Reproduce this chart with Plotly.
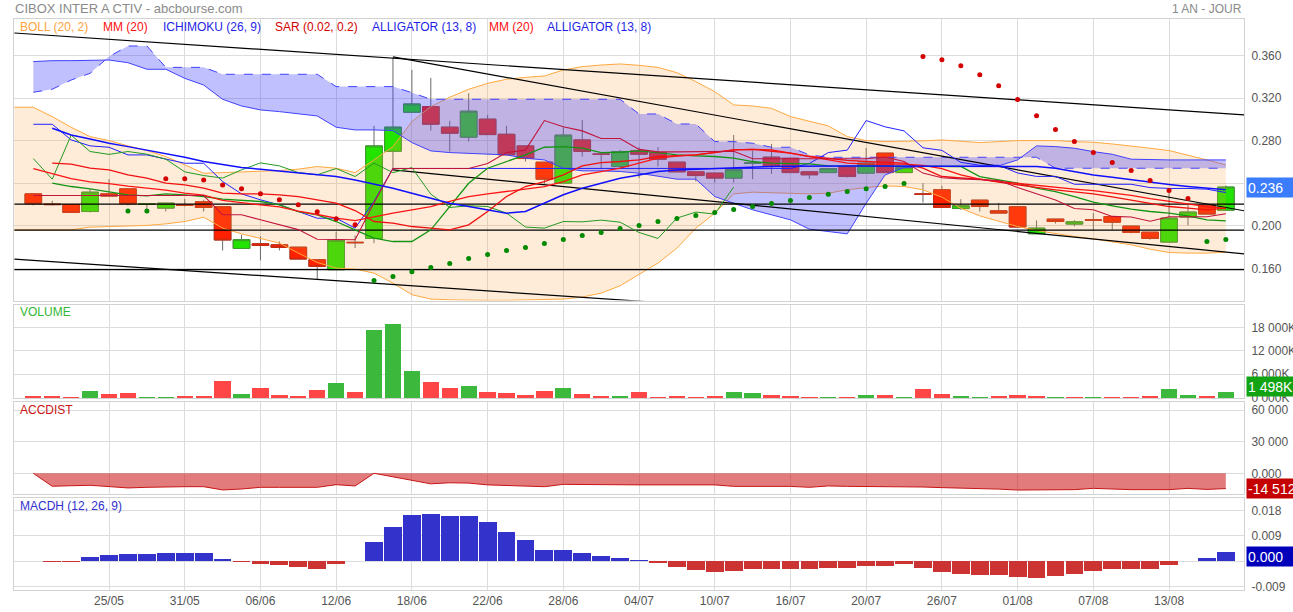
import plotly.graph_objects as go

# ---------------- DATA ----------------
dates = ['18/05', '21/05', '22/05', '23/05', '24/05', '25/05', '28/05', '29/05', '30/05', '31/05',
         '01/06', '04/06', '05/06', '06/06', '07/06', '08/06', '11/06', '12/06', '13/06', '14/06',
         '15/06', '18/06', '19/06', '20/06', '21/06', '22/06', '25/06', '26/06', '27/06', '28/06',
         '29/06', '02/07', '03/07', '04/07', '05/07', '06/07', '09/07', '10/07', '11/07', '12/07',
         '13/07', '16/07', '17/07', '18/07', '19/07', '20/07', '23/07', '24/07', '25/07', '26/07',
         '27/07', '30/07', '31/07', '01/08', '02/08', '03/08', '06/08', '07/08', '08/08', '09/08',
         '10/08', '13/08', '14/08', '15/08', '16/08']
tick_labels = ['25/05', '31/05', '06/06', '12/06', '18/06', '22/06', '28/06', '04/07',
               '10/07', '16/07', '20/07', '26/07', '01/08', '07/08', '13/08']

# sessions 21/05 .. 16/08
opens = [0.2301, 0.2205, 0.2201, 0.2135, 0.2301, 0.2348, 0.2203, 0.2167, 0.2197, 0.2226,
         0.2180, 0.1788, 0.1832, 0.1822, 0.1800, 0.1682, 0.1588, 0.1846, 0.1882, 0.2702,
         0.3069, 0.3121, 0.2928, 0.2834, 0.3003, 0.2861, 0.2752, 0.2599, 0.2402, 0.2808,
         0.2676, 0.2558, 0.2706, 0.2689, 0.2599, 0.2508, 0.2496, 0.2449, 0.2588, 0.2646,
         0.2636, 0.2508, 0.2501, 0.2555, 0.2496, 0.2684, 0.2501, 0.2300, 0.2339, 0.2163,
         0.2242, 0.2142, 0.2180, 0.1926, 0.2064, 0.2017, 0.2056, 0.2088, 0.1998, 0.1941,
         0.1848, 0.2083, 0.2195, 0.2148]
highs = [0.2301, 0.2236, 0.2201, 0.2348, 0.2439, 0.2348, 0.2208, 0.2214, 0.2254, 0.2245,
         0.2180, 0.1914, 0.1902, 0.1854, 0.1800, 0.1682, 0.1945, 0.1910, 0.2940, 0.3585,
         0.3466, 0.3391, 0.2987, 0.3247, 0.3043, 0.2940, 0.2752, 0.2599, 0.2928, 0.2996,
         0.2685, 0.2714, 0.2740, 0.2740, 0.2599, 0.2508, 0.2496, 0.2855, 0.2706, 0.2771,
         0.2636, 0.2508, 0.2545, 0.2555, 0.2733, 0.2684, 0.2560, 0.2402, 0.2377, 0.2251,
         0.2242, 0.2217, 0.2180, 0.2051, 0.2064, 0.2054, 0.2120, 0.2088, 0.1998, 0.1941,
         0.2323, 0.2205, 0.2195, 0.2380]
lows = [0.2192, 0.2192, 0.2126, 0.2126, 0.2280, 0.2192, 0.2160, 0.2135, 0.2182, 0.2135,
        0.1769, 0.1788, 0.1675, 0.1769, 0.1688, 0.1494, 0.1588, 0.1792, 0.1838, 0.2527,
        0.3069, 0.2896, 0.2699, 0.2793, 0.2858, 0.2668, 0.2605, 0.2395, 0.2402, 0.2652,
        0.2533, 0.2533, 0.2449, 0.2558, 0.2508, 0.2417, 0.2407, 0.2407, 0.2439, 0.2489,
        0.2501, 0.2442, 0.2501, 0.2455, 0.2496, 0.2501, 0.2501, 0.2220, 0.2173, 0.2151,
        0.2135, 0.2120, 0.1989, 0.1926, 0.2022, 0.1995, 0.1957, 0.1963, 0.1930, 0.1870,
        0.1848, 0.2004, 0.2111, 0.2148]
closes = [0.2208, 0.2200, 0.2126, 0.2317, 0.2280, 0.2208, 0.2208, 0.2214, 0.2192, 0.2173,
          0.1867, 0.1870, 0.1816, 0.1797, 0.1688, 0.1619, 0.1864, 0.1842, 0.2752, 0.2928,
          0.3146, 0.2956, 0.2871, 0.3078, 0.2858, 0.2668, 0.2633, 0.2439, 0.2853, 0.2699,
          0.2672, 0.2699, 0.2674, 0.2627, 0.2508, 0.2473, 0.2449, 0.2527, 0.2592, 0.2564,
          0.2501, 0.2480, 0.2539, 0.2464, 0.2590, 0.2501, 0.2548, 0.2298, 0.2173, 0.2189,
          0.2182, 0.2120, 0.1989, 0.1979, 0.2041, 0.2038, 0.2054, 0.2035, 0.1938, 0.1882,
          0.2073, 0.2130, 0.2111, 0.2365]

# Bollinger (from 18/05)
boll_up = [0.3115, 0.3115, 0.3027, 0.2927, 0.2839, 0.2802, 0.2752, 0.2708, 0.2652, 0.2573, 0.2495,
           0.2501, 0.2507, 0.2511, 0.2520, 0.2533, 0.2558, 0.2542, 0.2501, 0.2620, 0.2745,
           0.2980, 0.3121, 0.3209, 0.3284, 0.3340, 0.3378, 0.3396, 0.3409, 0.3465, 0.3497,
           0.3512, 0.3522, 0.3509, 0.3490, 0.3440, 0.3356, 0.3262, 0.3137, 0.3127, 0.3105,
           0.3027, 0.2980, 0.2940, 0.2839, 0.2802, 0.2792, 0.2792, 0.2799, 0.2808, 0.2792,
           0.2783, 0.2792, 0.2802, 0.2802, 0.2802, 0.2792, 0.2786, 0.2770, 0.2752, 0.2730,
           0.2708, 0.2667, 0.2620, 0.2573]
boll_low = [0.1963, 0.1963, 0.1963, 0.1963, 0.1988, 0.1994, 0.1994, 0.2004, 0.2019, 0.2041, 0.2082,
            0.1979, 0.1925, 0.1885, 0.1838, 0.1744, 0.1656, 0.1603, 0.1594, 0.1556, 0.1462,
            0.1353, 0.1312, 0.1305, 0.1300, 0.1300, 0.1300, 0.1303, 0.1303, 0.1312, 0.1331,
            0.1368, 0.1437, 0.1540, 0.1650, 0.1791, 0.1979, 0.2119, 0.2301, 0.2317, 0.2313,
            0.2307, 0.2301, 0.2307, 0.2339, 0.2360, 0.2376, 0.2370, 0.2339, 0.2270, 0.2166,
            0.2094, 0.2041, 0.1994, 0.1957, 0.1925, 0.1900, 0.1878, 0.1853, 0.1822, 0.1781,
            0.1750, 0.1744, 0.1744, 0.1753]

mm20 = [0.2539, 0.2495, 0.2445, 0.2414, 0.2398, 0.2373, 0.2356, 0.2336, 0.2307, 0.2289,
        0.2240, 0.2216, 0.2198, 0.2179, 0.2139, 0.2107, 0.2073, 0.2050, 0.2088, 0.2119,
        0.2151, 0.2182, 0.2230, 0.2276, 0.2300, 0.2323, 0.2345, 0.2370, 0.2417, 0.2479,
        0.2511, 0.2542, 0.2589, 0.2636, 0.2655, 0.2667, 0.2690, 0.2714, 0.2720, 0.2714,
        0.2683, 0.2652, 0.2624, 0.2589, 0.2581, 0.2584, 0.2581, 0.2569, 0.2539, 0.2479,
        0.2439, 0.2417, 0.2398, 0.2380, 0.2364, 0.2346, 0.2332, 0.2312, 0.2287, 0.2256,
        0.2229, 0.2206, 0.2182, 0.2163]
alligator_teeth = [None, 0.2589, 0.2580, 0.2542, 0.2526, 0.2479, 0.2448, 0.2401, 0.2385, 0.2354,
                   0.2307, 0.2301, 0.2301, 0.2292, 0.2276, 0.2245, 0.2213, 0.2144, 0.2041, 0.2026,
                   0.1994, 0.1979, 0.1963, 0.2010, 0.2135, 0.2276, 0.2370, 0.2417, 0.2479, 0.2564,
                   0.2595, 0.2605, 0.2620, 0.2652, 0.2661, 0.2667, 0.2689, 0.2714, 0.2720, 0.2705,
                   0.2683, 0.2652, 0.2630, 0.2615, 0.2605, 0.2598, 0.2589, 0.2542, 0.2464, 0.2450,
                   0.2439, 0.2412, 0.2385, 0.2362, 0.2339, 0.2320, 0.2301, 0.2273, 0.2245, 0.2213,
                   0.2182, 0.2166, 0.2151, 0.2166]
alligator_jaw = [None, 0.2918, 0.2855, 0.2817, 0.2777, 0.2745, 0.2714, 0.2683, 0.2645, 0.2605,
                 0.2573, 0.2548, 0.2533, 0.2517, 0.2501, 0.2486, 0.2464, 0.2432, 0.2395, 0.2354,
                 0.2307, 0.2260, 0.2213, 0.2182, 0.2151, 0.2119, 0.2135, 0.2213, 0.2292, 0.2354,
                 0.2401, 0.2448, 0.2479, 0.2511, 0.2526, 0.2533, 0.2542, 0.2548, 0.2555, 0.2558,
                 0.2561, 0.2564, 0.2564, 0.2564, 0.2564, 0.2564, 0.2564, 0.2564, 0.2564, 0.2564,
                 0.2564, 0.2564, 0.2564, 0.2558, 0.2542, 0.2511, 0.2479, 0.2457, 0.2432, 0.2407,
                 0.2389, 0.2370, 0.2354, 0.2339]
alligator_lips = [None, 0.2401, 0.2370, 0.2348, 0.2323, 0.2292, 0.2282, 0.2301, 0.2292, 0.2276,
                  0.2251, 0.2238, 0.2229, 0.2198, 0.2135, 0.2104, 0.2041, 0.1963, 0.1885, 0.1853,
                  0.1853, 0.1963, 0.2182, 0.2401, 0.2542, 0.2605, 0.2667, 0.2739, 0.2745, 0.2730,
                  0.2689, 0.2692, 0.2705, 0.2689, 0.2667, 0.2658, 0.2652, 0.2636, 0.2605, 0.2589,
                  0.2583, 0.2583, 0.2564, 0.2564, 0.2564, 0.2564, 0.2564, 0.2564, 0.2558, 0.2558,
                  0.2464, 0.2432, 0.2401, 0.2354, 0.2323, 0.2276, 0.2223, 0.2188, 0.2157, 0.2135,
                  0.2119, 0.2094, 0.2057, 0.2047]

ichimoku_tenkan = [0.2285, 0.2285, 0.2285, 0.2285, 0.2285, 0.2285, 0.2285, 0.2285, 0.2285, 0.2285,
                   0.2104, 0.2104, 0.2057, 0.2012, 0.1965, 0.1874, 0.1874, 0.1870, 0.2217, 0.2540,
                   0.2540, 0.2540, 0.2540, 0.2540, 0.2587, 0.2689, 0.2712, 0.2990, 0.2931, 0.2893,
                   0.2821, 0.2821, 0.2719, 0.2696, 0.2696, 0.2696, 0.2702, 0.2702, 0.2631, 0.2631,
                   0.2631, 0.2631, 0.2631, 0.2631, 0.2631, 0.2647, 0.2605, 0.2496, 0.2453, 0.2442,
                   0.2434, 0.2427, 0.2361, 0.2305, 0.2243, 0.2164, 0.2152, 0.2089, 0.2084, 0.2044,
                   0.2086, 0.2086, 0.2086, 0.2114]
ichimoku_kijun = [0.2955, 0.2955, 0.2808, 0.2752, 0.2739, 0.2667, 0.2667, 0.2627, 0.2589, 0.2589,
                  0.2417, 0.2301, 0.2245, 0.2198, 0.2135, 0.2072, 0.2072, 0.1979, 0.2230, 0.2540,
                  0.2540, 0.2540, 0.2540, 0.2540, 0.2540, 0.2540, 0.2540, 0.2540, 0.2540, 0.2540,
                  0.2540, 0.2540, 0.2540, 0.2540, 0.2540, 0.2540, 0.2540, 0.2540, 0.2540, 0.2540,
                  0.2540, 0.2587, 0.2689, 0.2712, 0.2990, 0.2931, 0.2893, 0.2734, 0.2710, 0.2597,
                  0.2570, 0.2570, 0.2497, 0.2465, 0.2465, 0.2391, 0.2391, 0.2391, 0.2391, 0.2360,
                  0.2352, 0.2352, 0.2345, 0.2313]
ichimoku_span_a = [0.3544, 0.3553, 0.3553, 0.3553, 0.3559, 0.3534, 0.3472, 0.3472, 0.3387, 0.3324,
                   0.3190, 0.3127, 0.3090, 0.3074, 0.3052, 0.3033, 0.2927, 0.2902, 0.2902, 0.2896,
                   0.2783, 0.2705, 0.2689, 0.2683, 0.2676, 0.2667, 0.2636, 0.2620, 0.2542, 0.2517,
                   0.2517, 0.2511, 0.2495, 0.2464, 0.2439, 0.2439, 0.2276, 0.2213, 0.2151, 0.2104,
                   0.2057, 0.1969, 0.1947, 0.1925, 0.2213, 0.2479, 0.2548, 0.2558, 0.2558, 0.2558,
                   0.2564, 0.2564, 0.2620, 0.2752, 0.2745, 0.2730, 0.2698, 0.2673, 0.2627, 0.2620,
                   0.2620, 0.2620, 0.2620, 0.2620]
ichimoku_span_b = [0.3256, 0.3284, 0.3371, 0.3434, 0.3591, 0.3691, 0.3691, 0.3490, 0.3490, 0.3490,
                   0.3425, 0.3425, 0.3425, 0.3425, 0.3425, 0.3425, 0.3309, 0.3309, 0.3309, 0.3309,
                   0.3252, 0.3190, 0.3190, 0.3190, 0.3190, 0.3190, 0.3190, 0.3190, 0.3190, 0.3190,
                   0.3190, 0.3190, 0.3052, 0.3052, 0.2958, 0.2958, 0.2792, 0.2792, 0.2777, 0.2739,
                   0.2739, 0.2667, 0.2645, 0.2645, 0.2645, 0.2645, 0.2645, 0.2645, 0.2645, 0.2645,
                   0.2645, 0.2645, 0.2645, 0.2645, 0.2542, 0.2542, 0.2542, 0.2542, 0.2542, 0.2542,
                   0.2542, 0.2542, 0.2542, 0.2542]
chikou_shift = 26

sar = [None, None, None, None, None, 0.2141, 0.2141, 0.2442, 0.2442, 0.2432,
       0.2385, 0.2348, 0.2301, 0.2245, 0.2198, 0.2132, 0.2066, 0.2010, 0.1487, 0.1525,
       0.1569, 0.1609, 0.1647, 0.1694, 0.1731, 0.1769, 0.1797, 0.1835, 0.1872, 0.1910,
       0.1938, 0.1975, 0.2004, 0.2041, 0.2069, 0.2098, 0.2126, 0.2154, 0.2182, 0.2210,
       0.2238, 0.2267, 0.2298, 0.2323, 0.2348, 0.2370, 0.2398, 0.3591, 0.3562, 0.3506,
       0.3421, 0.3318, 0.3187, 0.3036, 0.2905, 0.2792, 0.2689, 0.2595, 0.2520, 0.2426,
       0.2332, 0.2257, 0.1853, 0.1872]

# trend lines (session index, price)
trend_top = {'x': [0, 65], 'y': [0.3813, 0.3043]}
trend_mid = {'x': [20, 65], 'y': [0.3588, 0.2141]}
trend_low = {'x': [20, 65], 'y': [0.2527, 0.1737]}
trend_bottom = {'x': [0, 65], 'y': [0.1688, 0.0909]}
levels = [0.2205, 0.1961, 0.1588]

volume_k = [430, 510, 255, 1790, 1020, 1190, 255, 170, 430, 430,
            4250, 1020, 2550, 680, 430, 1960, 3740, 1530, 17250, 18870,
            6800, 4080, 2550, 3060, 1530, 1280, 680, 1790, 2470, 1020,
            510, 340, 1450, 170, 430, 170, 340, 1450, 1280, 680,
            510, 170, 85, 170, 680, 680, 255, 2130, 940, 430,
            170, 340, 770, 430, 85, 85, 170, 85, 170, 340,
            2130, 770, 430, 1498]
volume_dir = ['d', 'd', 'd', 'u', 'd', 'd', 'u', 'u', 'd', 'd',
              'd', 'u', 'd', 'd', 'd', 'd', 'u', 'd', 'u', 'u',
              'u', 'd', 'd', 'u', 'd', 'd', 'd', 'd', 'u', 'd',
              'd', 'u', 'd', 'd', 'd', 'd', 'd', 'u', 'u', 'd',
              'd', 'd', 'u', 'd', 'u', 'd', 'u', 'd', 'd', 'u',
              'u', 'd', 'd', 'd', 'u', 'd', 'u', 'd', 'd', 'd',
              'u', 'u', 'd', 'u']

accdist = [0, -12300, -11800, -11400, -12600, -13900, -13300, -12700, -12700, -12700,
           -15800, -14900, -13300, -13300, -13300, -13300, -10800, -12000, 0, -3300,
           -7000, -10000, -9000, -9300, -11000, -11600, -12300, -12700, -10500, -10800,
           -11000, -11000, -11000, -11000, -11000, -11000, -11000, -12400, -12400, -12400,
           -12400, -13300, -12000, -12400, -12400, -12400, -12400, -13000, -13600, -14000,
           -14300, -15000, -15900, -15800, -15700, -15500, -14300, -15000, -15500, -15500,
           -15500, -14300, -15300, -14512]

macdh = [None, -0.0002, -0.0002, 0.0015, 0.0022, 0.0026, 0.0026, 0.0029, 0.0029, 0.0029,
         0.0008, -0.0002, -0.0009, -0.0013, -0.0020, -0.0027, -0.0009, 0.0000, 0.0068, 0.0121,
         0.0163, 0.0167, 0.0160, 0.0160, 0.0139, 0.0104, 0.0075, 0.0040, 0.0040, 0.0029,
         0.0019, 0.0013, 0.0005, -0.0006, -0.0019, -0.0031, -0.0038, -0.0034, -0.0027, -0.0027,
         -0.0027, -0.0027, -0.0024, -0.0024, -0.0016, -0.0016, -0.0009, -0.0024, -0.0038, -0.0045,
         -0.0048, -0.0048, -0.0055, -0.0059, -0.0052, -0.0045, -0.0034, -0.0027, -0.0027, -0.0027,
         -0.0013, 0.0000, 0.0012, 0.0033]

main_ticks = [0.16, 0.20, 0.24, 0.28, 0.32, 0.36]
vol_ticks = [0, 6000, 12000, 18000]
vol_ticktext = ['0 000K', '6 000K', '12 000K', '18 000K']
acc_ticks = [0, 30000, 60000]
acc_ticktext = ['0.000', '30 000', '60 000']
macd_ticks = [-0.009, 0, 0.009, 0.018]

# ---------------- FIGURE ----------------
x_all = list(range(len(dates)))
x_s = x_all[1:]
tick_pos = [dates.index(d) for d in tick_labels]

FONT = 'Liberation Sans, Arial, sans-serif'
fig = go.Figure()

# candles: wicks (grey) then coloured bodies
body_top = [max(o, c) for o, c in zip(opens, closes)]
body_bot = [min(o, c) for o, c in zip(opens, closes)]
grey = dict(fillcolor='#6a6a6a', line=dict(color='#6a6a6a', width=1))
fig.add_trace(go.Candlestick(x=x_s, open=opens, high=highs, low=lows, close=closes,
                             increasing=grey, decreasing=grey, whiskerwidth=0,
                             hoverinfo='skip', xaxis='x', yaxis='y'))
fig.add_trace(go.Candlestick(x=x_s, open=opens, high=body_top, low=body_bot, close=closes,
                             increasing=dict(fillcolor='#22e400', line=dict(color='#3c9c2c', width=1)),
                             decreasing=dict(fillcolor='#ff2000', line=dict(color='#cc2a10', width=1)),
                             whiskerwidth=0, hoverinfo='skip', xaxis='x', yaxis='y'))

# Bollinger band
fig.add_trace(go.Scatter(x=x_all, y=boll_low, mode='lines',
                         line=dict(color='#ffa840', width=1), xaxis='x', yaxis='y'))
fig.add_trace(go.Scatter(x=x_all, y=boll_up, mode='lines', fill='tonexty',
                         fillcolor='rgba(255,160,60,0.2)',
                         line=dict(color='#ffa840', width=1), xaxis='x', yaxis='y'))
# Ichimoku cloud
fig.add_trace(go.Scatter(x=x_s, y=ichimoku_span_a, mode='lines',
                         line=dict(color='#4040ff', width=1), xaxis='x', yaxis='y'))
fig.add_trace(go.Scatter(x=x_s, y=ichimoku_span_b, mode='lines', fill='tonexty',
                         fillcolor='rgba(60,60,255,0.32)',
                         line=dict(color='#4040ff', width=1, dash='dash'), xaxis='x', yaxis='y'))

# trend lines and levels
for t in (trend_top, trend_mid, trend_low, trend_bottom):
    fig.add_trace(go.Scatter(x=t['x'], y=t['y'], mode='lines',
                             line=dict(color='#000000', width=1.2), xaxis='x', yaxis='y'))
for lv in levels:
    fig.add_trace(go.Scatter(x=[x_all[0], x_all[-1] + 1], y=[lv, lv], mode='lines',
                             line=dict(color='#000000', width=1.2), xaxis='x', yaxis='y'))

# moving averages / alligator / ichimoku lines
fig.add_trace(go.Scatter(x=x_s, y=ichimoku_kijun, mode='lines',
                         line=dict(color='#2020ff', width=1), xaxis='x', yaxis='y'))
fig.add_trace(go.Scatter(x=x_s, y=alligator_lips, mode='lines',
                         line=dict(color='#149414', width=1.3), xaxis='x', yaxis='y'))
fig.add_trace(go.Scatter(x=x_s[:len(closes) - chikou_shift], y=closes[chikou_shift:], mode='lines',
                         line=dict(color='#229a22', width=1), xaxis='x', yaxis='y'))
fig.add_trace(go.Scatter(x=x_s, y=mm20, mode='lines',
                         line=dict(color='#ff1414', width=1.3), xaxis='x', yaxis='y'))
fig.add_trace(go.Scatter(x=x_s, y=alligator_teeth, mode='lines',
                         line=dict(color='#f01010', width=1.3), xaxis='x', yaxis='y'))
fig.add_trace(go.Scatter(x=x_s, y=ichimoku_tenkan, mode='lines',
                         line=dict(color='#c0143c', width=1.1), xaxis='x', yaxis='y'))
fig.add_trace(go.Scatter(x=x_s, y=alligator_jaw, mode='lines',
                         line=dict(color='#1010ff', width=1.5), xaxis='x', yaxis='y'))

# SAR dots
sar_colors = ['#d40000' if (s is not None and s > c) else '#008a00' for s, c in zip(sar, closes)]
fig.add_trace(go.Scatter(x=x_s, y=sar, mode='markers',
                         marker=dict(color=sar_colors, size=5), xaxis='x', yaxis='y'))

# volume
vcol = {'u': 'rgba(50,180,50,0.95)', 'd': 'rgba(255,60,60,0.95)'}
fig.add_trace(go.Bar(x=x_s, y=volume_k, width=0.86,
                     marker=dict(color=[vcol[d] for d in volume_dir], line=dict(width=0)),
                     xaxis='x2', yaxis='y2'))

# accdist
fig.add_trace(go.Scatter(x=x_s, y=accdist, mode='lines', fill='tozeroy',
                         fillcolor='rgba(205,30,30,0.58)',
                         line=dict(color='#c81414', width=1), xaxis='x3', yaxis='y3'))

# macdh
mcol = ['#3333cc' if (v is not None and v >= 0) else '#cc3333' for v in macdh]
fig.add_trace(go.Bar(x=x_s, y=macdh, width=0.94, marker=dict(color=mcol, line=dict(width=0)),
                     xaxis='x4', yaxis='y4'))

# ---------------- LAYOUT ----------------
TOP, BOT, LEFT, RIGHT = 19, 590, 14, 1244
H = BOT - TOP


def fy(py):
    return (BOT - py) / H


def fx(px):
    return (px - LEFT) / (RIGHT - LEFT)


xcommon = dict(range=[-0.02, 64.96], tickvals=tick_pos, ticktext=tick_labels,
               showgrid=True, gridcolor='#dcdcdc', gridwidth=1, zeroline=False,
               showline=True, linecolor='#d2d2d2', linewidth=1, mirror=True, ticks='',
               showticklabels=False, fixedrange=True, automargin=False)
ycommon = dict(side='right', showgrid=True, gridcolor='#dcdcdc', gridwidth=1, zeroline=False,
               showline=True, linecolor='#d2d2d2', linewidth=1, mirror=True, ticks='',
               tickfont=dict(family=FONT, size=12, color='#555555'), ticklabelstandoff=4,
               automargin=False, fixedrange=True)

fig.update_layout(
    width=1293, height=612,
    margin=dict(l=LEFT, r=1293 - RIGHT, t=TOP, b=612 - BOT, autoexpand=False),
    paper_bgcolor='white', plot_bgcolor='white',
    showlegend=False, hovermode=False,
    boxgap=0.12, boxgroupgap=0, boxmode='overlay', bargap=0,
    font=dict(family=FONT, size=12, color='#555555'),
    xaxis=dict(xcommon, anchor='y', rangeslider=dict(visible=False)),
    xaxis2=dict(xcommon, anchor='y2', matches='x'),
    xaxis3=dict(xcommon, anchor='y3', matches='x'),
    xaxis4=dict(xcommon, anchor='y4', matches='x', showticklabels=True,
                tickfont=dict(family=FONT, size=12, color='#555555')),
    yaxis=dict(ycommon, domain=[fy(300.5), 1.0], range=[0.12986, 0.39446],
               tickvals=main_ticks, ticktext=['%.3f' % v for v in main_ticks]),
    yaxis2=dict(ycommon, domain=[fy(398), fy(304.5)], range=[-80, 23900],
                tickvals=vol_ticks, ticktext=vol_ticktext),
    yaxis3=dict(ycommon, domain=[fy(494), fy(401.7)], range=[-19644, 67948],
                tickvals=acc_ticks, ticktext=acc_ticktext),
    yaxis4=dict(ycommon, domain=[0, fy(497.5)], range=[-0.01021, 0.02269],
                tickvals=macd_ticks, ticktext=['%.3f' % v for v in macd_ticks]),
)

ann = []


def text(px, py, s, color, size=12, anchor='left'):
    ann.append(dict(xref='paper', yref='paper', x=fx(px), y=fy(py), text=s, showarrow=False,
                    xanchor=anchor, yanchor='middle', font=dict(family=FONT, size=size, color=color)))


text(13, 9, 'CIBOX INTER A CTIV - abcbourse.com', '#8a8a8a', 13)
text(1244, 9, '1 AN - JOUR', '#8a8a8a', 12, 'right')
legend_items = [(18, 'BOLL (20, 2)', '#ffa33a'), (101, 'MM (20)', '#ff1010'),
                (161, 'ICHIMOKU (26, 9)', '#1f1fe6'), (273, 'SAR (0.02, 0.2)', '#d40000'),
                (370, 'ALLIGATOR (13, 8)', '#1f1fe6'), (487, 'MM (20)', '#ff1010'),
                (545, 'ALLIGATOR (13, 8)', '#1f1fe6')]
for px, s, c in legend_items:
    text(px, 27, s, c, 12)
text(18, 312, 'VOLUME', '#33b833', 12)
text(18, 410, 'ACCDIST', '#c81414', 12)
text(18, 506, 'MACDH (12, 26, 9)', '#3030cc', 12)


def badge(yref, yval, s, bg, yshift=0):
    ann.append(dict(xref='paper', yref=yref, x=1.0, y=yval, xanchor='left', yanchor='middle',
                    xshift=2, yshift=yshift, text=s, showarrow=False, bgcolor=bg,
                    width=46, height=17, borderpad=1, align='left',
                    font=dict(family=FONT, size=14, color='white')))


badge('y', closes[-1], '0.236', '#3b7cfc')
badge('y2', volume_k[-1], '1 498K', '#12a312', 5)
badge('y3', accdist[-1], '-14 512', '#c40000')
badge('y4', 0, '0.000', '#0000bb', 5)

fig.update_layout(annotations=ann)
fig.write_html('out.html', config={'displayModeBar': False, 'staticPlot': True},
               post_script="document.body.style.margin='0px';")
